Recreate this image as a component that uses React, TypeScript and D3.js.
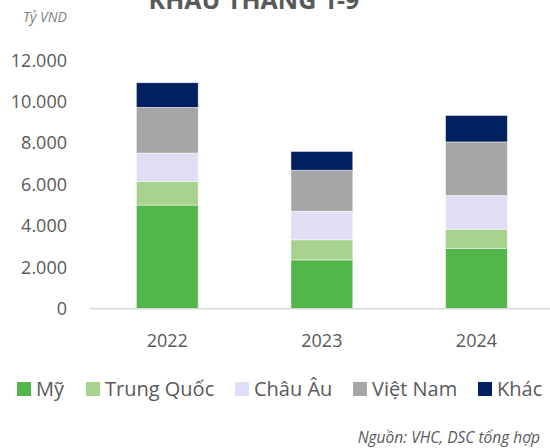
import React from "react";
import * as d3 from "d3";

const years = ["2022", "2023", "2024"];
const seriesNames = ["Mỹ", "Trung Quốc", "Châu Âu", "Việt Nam", "Khác"];
const my = [5000, 2350, 2910];
const trungQuoc = [1130, 970, 920];
const chauAu = [1380, 1380, 1630];
const vietNam = [2210, 1980, 2590];
const khac = [1190, 910, 1280];
const colors = ["#52B64A", "#A9D18E", "#E0DEF5", "#A6A6A6", "#002060"];
const yTicks = [0, 2000, 4000, 6000, 8000, 10000, 12000];
const legendX = [17, 86, 235, 353, 478];

export default function App() {
  const W = 550, H = 448;
  const series = [my, trungQuoc, chauAu, vietNam, khac];
  const rows = years.map((y, i) => {
    const r: any = { year: y };
    seriesNames.forEach((s, k) => (r[s] = series[k][i]));
    return r;
  });
  const stack = d3.stack<any>().keys(seriesNames)(rows);
  const x = d3.scaleBand().domain(years).range([90, 553.75]).paddingInner(0.6).paddingOuter(0.3);
  const y = d3.scaleLinear().domain([0, 12000]).range([308.5, 60.2]);
  const fmt = (v: number) => d3.format(",")(v).replace(/,/g, ".");
  const font = "'Open Sans', 'Noto Sans', sans-serif";
  const grey = "#595959";
  return (
    <svg width={W} height={H} style={{ position: "absolute", left: 0, top: 0, background: "#fff" }} fontFamily={font}>
      <text x={254} y={9} textAnchor="middle" fontSize={25} fontWeight="bold" fill={grey}>KHẨU THÁNG 1-9</text>
      <text x={23} y={22} fontSize={14} fontStyle="italic" fill="#7f7f7f">Tỷ VND</text>
      {yTicks.map((t) => (
        <text key={t} x={67} y={y(t)} dy="0.36em" textAnchor="end" fontSize={18} fill={grey}>{fmt(t)}</text>
      ))}
      {stack.map((layer, k) => (
        <g key={layer.key} fill={colors[k]}>
          {layer.map((d, i) => (
            <rect key={i} x={x(years[i])!} width={x.bandwidth()} y={y(d[1])} height={y(d[0]) - y(d[1])} stroke="#ffffff" strokeOpacity={0.6} strokeWidth={0.8} />
          ))}
        </g>
      ))}
      <line x1={90} x2={550} y1={308.8} y2={308.8} stroke="#d9d9d9" strokeWidth={1.5} />
      {years.map((yr) => (
        <text key={yr} x={x(yr)! + x.bandwidth() / 2} y={347} textAnchor="middle" fontSize={18} fill={grey}>{yr}</text>
      ))}
      {seriesNames.map((s, k) => (
        <g key={s}>
          <rect x={legendX[k]} y={382} width={14} height={14} fill={colors[k]} />
          <text x={legendX[k] + 19} y={389} dy="0.36em" fontSize={20} fill={grey}>{s}</text>
        </g>
      ))}
      <text x={540} y={443} textAnchor="end" fontSize={15.5} fontStyle="italic" fill={grey}>Nguồn: VHC, DSC tổng hợp</text>
    </svg>
  );
}
